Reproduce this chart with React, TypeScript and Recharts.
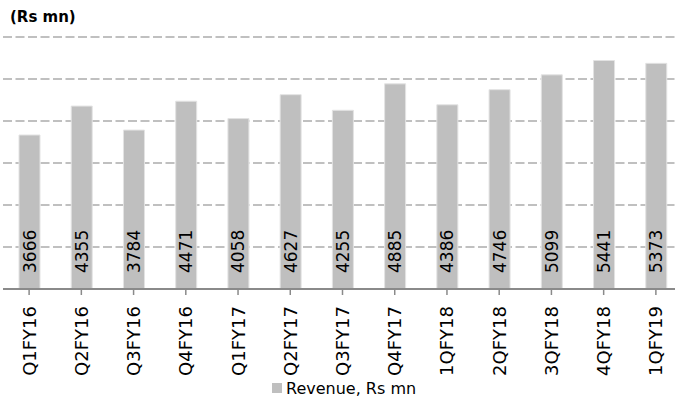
import { BarChart, Bar, XAxis, YAxis, CartesianGrid, Legend, LabelList } from "recharts";

const quarters = [
  "Q1FY16", "Q2FY16", "Q3FY16", "Q4FY16", "Q1FY17", "Q2FY17", "Q3FY17",
  "Q4FY17", "1QFY18", "2QFY18", "3QFY18", "4QFY18", "1QFY19",
];
const revenue = [3666, 4355, 3784, 4471, 4058, 4627, 4255, 4885, 4386, 4746, 5099, 5441, 5373];
const yTicks = [0, 1000, 2000, 3000, 4000, 5000, 6000];

const data = quarters.map((q, i) => ({ quarter: q, revenue: revenue[i] }));

const FONT = "'DejaVu Sans', sans-serif";

// rotated category label, reads bottom to top
const QuarterTick = (props: any) => {
  const { x, y, payload } = props;
  const ty = y + 9;
  return (
    <text
      x={x}
      y={ty}
      transform={`rotate(-90, ${x}, ${ty})`}
      textAnchor="end"
      dominantBaseline="central"
      fontSize={18}
      fontFamily={FONT}
      fill="#000"
    >
      {payload.value}
    </text>
  );
};

// value written inside the bar, near its base
const BarValue = (props: any) => {
  const { x, y, width, height, value } = props;
  const cx = x + width / 2;
  const cy = y + height - 16;
  return (
    <text
      x={cx}
      y={cy}
      transform={`rotate(-90, ${cx}, ${cy})`}
      textAnchor="start"
      dominantBaseline="central"
      fontSize={17}
      fontFamily={FONT}
      fill="#000"
    >
      {value}
    </text>
  );
};

const LegendBox = () => (
  <div style={{ height: 24, display: "flex", alignItems: "center", paddingLeft: 272, fontFamily: FONT }}>
    <span style={{ width: 10, height: 10, background: "#bfbfbf", display: "inline-block", marginRight: 4 }} />
    <span style={{ fontSize: 16, color: "#000" }}>Revenue, Rs mn</span>
  </div>
);

export default function App() {
  return (
    <div style={{ position: "absolute", top: 0, left: 0, width: 675, height: 400, overflow: "hidden", background: "#fff" }}>
      <div
        style={{
          position: "absolute",
          top: 8,
          left: 10,
          fontFamily: FONT,
          fontSize: 15,
          fontWeight: 700,
          color: "#000",
        }}
      >
        (Rs mn)
      </div>
      <BarChart width={690} height={400} data={data} margin={{ top: 37, right: 8, left: 3, bottom: 0 }}>
        <CartesianGrid
          vertical={false}
          stroke="#c0c0c0"
          strokeWidth={2}
          strokeDasharray="9 3.5"
        />
        <YAxis hide domain={[0, 6000]} ticks={yTicks} />
        <XAxis
          dataKey="quarter"
          interval={0}
          height={87}
          tickSize={6}
          axisLine={{ stroke: "#8a8a8a", strokeWidth: 2 }}
          tickLine={{ stroke: "#8a8a8a", strokeWidth: 1.5 }}
          tick={<QuarterTick />}
        />
        <Legend verticalAlign="bottom" wrapperStyle={{ left: 0, width: 690 }} content={<LegendBox />} />
        <Bar
          dataKey="revenue"
          name="Revenue, Rs mn"
          fill="#bfbfbf"
          stroke="#e3e3e3"
          strokeWidth={1}
          barSize={21}
          isAnimationActive={false}
        >
          <LabelList dataKey="revenue" content={<BarValue />} />
        </Bar>
      </BarChart>
    </div>
  );
}
